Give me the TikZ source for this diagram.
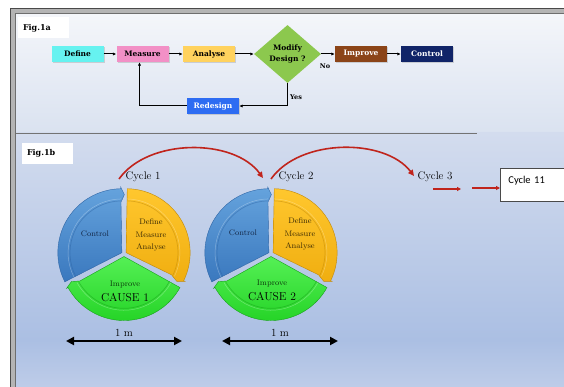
\documentclass[tikz,border=0pt]{standalone}
\usepackage{fontspec}
\newfontfamily\dvs{DejaVu Serif}
\newfontfamily\carl{Carlito}
\usetikzlibrary{arrows.meta,shapes.geometric,shadows}
\definecolor{cyanbox}{HTML}{66F2F0}
\definecolor{pinkbox}{HTML}{F290C6}
\definecolor{yelbox}{HTML}{FFD25E}
\definecolor{diagreen}{HTML}{8CC84E}
\definecolor{brownbox}{HTML}{8B4418}
\definecolor{navybox}{HTML}{102468}
\definecolor{bluebox}{HTML}{2D6CF2}
\definecolor{cycred}{HTML}{C0241C}
\definecolor{segblueA}{HTML}{65A3DD}
\definecolor{segblueB}{HTML}{3A78BE}
\definecolor{segblueD}{HTML}{2F66A6}
\definecolor{segyelA}{HTML}{FFC72E}
\definecolor{segyelB}{HTML}{F0AE10}
\definecolor{segyelD}{HTML}{C08808}
\definecolor{seggreenA}{HTML}{55F055}
\definecolor{seggreenB}{HTML}{1FD021}
\definecolor{seggreenD}{HTML}{17A019}
\definecolor{panelA}{HTML}{F4F6FA}
\definecolor{panelB}{HTML}{DAE2F0}
\definecolor{panelC}{HTML}{D3DCEE}
\definecolor{panelD}{HTML}{ABBFE3}
\definecolor{panelE}{HTML}{C3D0EA}
\definecolor{framegray}{HTML}{B4B4B4}
\definecolor{framedark}{HTML}{4A4A4A}
\definecolor{txtblue}{HTML}{142848}
\definecolor{txtbrown}{HTML}{3A2A04}
\definecolor{txtgreen}{HTML}{0C3A0C}
\newcommand\Rw{64}
\newcommand\wseg[5]{%
  \begin{scope}[shift={({(#1+#2)/2}:2.5)}]
  \path[top color=#3,bottom color=#4,draw=#5,line width=0.4pt]
    (0,0) -- (#1:\Rw) arc[start angle=#1,end angle=#2,radius=\Rw]
    -- (#2:{1.025*\Rw}) -- ({#2-3.5}:{0.91*\Rw}) -- (#2:{0.79*\Rw}) -- cycle;
  \draw[#5,line width=0.7pt,opacity=0.5] (#1:{0.81*\Rw}) arc[start angle=#1,end angle=#2,radius={0.81*\Rw}];
  \draw[white,line width=0.5pt,opacity=0.3] (#1:{0.84*\Rw}) arc[start angle=#1,end angle=#2,radius={0.84*\Rw}];
  \end{scope}
}
\newcommand\wheelsegs{%
  \wseg{207}{91}{segblueA}{segblueB}{segblueD}
  \wseg{89}{-26}{segyelA}{segyelB}{segyelD}
  \wseg{-29}{-151}{seggreenA}{seggreenB}{seggreenD}
}
\begin{document}
\begin{tikzpicture}[x=1pt,y=-1pt,
  flowbox/.style={rectangle,minimum width=52pt,minimum height=16pt,inner sep=0pt,
    font=\dvs\bfseries\fontsize{7.5}{9}\selectfont,
    drop shadow={shadow xshift=1pt,shadow yshift=-1pt,opacity=0.3}},
  flowarrow/.style={-{Latex[length=3.5pt,width=3.2pt]},line width=1pt,black},
  figlabel/.style={fill=white,inner xsep=5pt,inner ysep=0pt,text width=41pt,align=left,
    minimum height=21pt,font=\dvs\bfseries\fontsize{8}{10}\selectfont},
  smalllabel/.style={font=\dvs\bfseries\fontsize{6.5}{8}\selectfont,inner sep=0pt},
  redarc/.style={cycred,line width=1.6pt,-{Triangle[length=6pt,width=5.5pt]}},
  redshort/.style={cycred,line width=1.6pt,-{Triangle[length=4pt,width=4pt]}},
  dimarrow/.style={black,line width=2pt,{Triangle[length=8pt,width=8pt]}-{Triangle[length=8pt,width=8pt]}},
  cyclabel/.style={font=\fontsize{11}{12}\selectfont,text=black,inner sep=0pt},
  wtxt/.style={font=\fontsize{8}{12.5}\selectfont,align=center,inner sep=0pt},
  causetxt/.style={font=\fontsize{11.5}{13}\selectfont,inner sep=0pt,text=black},
  metertxt/.style={font=\fontsize{11}{13}\selectfont,inner sep=0pt}
]
\useasboundingbox (0,0) rectangle (564,387);
\clip (0,0) rectangle (564,387);
\fill[white] (0,0) rectangle (564,387);
% frame and panels
\fill[framegray] (10,8) rectangle (590,400);
\draw[framedark,line width=1.2pt] (10.6,8.6) rectangle (590,400);
\fill[top color=panelA,bottom color=panelB] (16,14) rectangle (590,133);
\fill[top color=panelC,bottom color=panelD] (16,133) rectangle (590,340);
\fill[top color=panelD,bottom color=panelE] (16,340) rectangle (590,400);
\draw[framedark!80,line width=0.8pt] (15.6,13.6) rectangle (590,400);
\draw[black!55,line width=0.8pt] (16,133) -- (477,133);

% Fig.1a
\node[figlabel] (fa) at (43.5,28) {Fig.1a};
\node[flowbox,fill=cyanbox] (def) at (77.5,54) {Define};
\node[flowbox,fill=pinkbox] (meas) at (142.5,54) {Measure};
\node[flowbox,fill=yelbox] (ana) at (209,54) {Analyse};
\node[diamond,fill=diagreen,minimum width=67pt,minimum height=58pt,inner sep=0pt,aspect=1.15,
  align=center,font=\dvs\bfseries\fontsize{7.5}{11}\selectfont] (dia) at (287.5,54) {Modify\\Design ?};
\node[flowbox,fill=brownbox,text=white] (imp) at (361,54) {Improve};
\node[flowbox,fill=navybox,text=white] (ctl) at (427,54) {Control};
\node[flowbox,fill=bluebox,text=white] (red) at (213,106) {Redesign};
\draw[flowarrow] (def.east) -- (meas.west);
\draw[flowarrow] (meas.east) -- (ana.west);
\draw[flowarrow] (ana.east) -- (dia.west);
\draw[flowarrow] (dia.east) -- (imp.west);
\draw[flowarrow] (imp.east) -- (ctl.west);
\draw[flowarrow] (dia.south) |- (red.east);
\draw[flowarrow] (red.west) -| ([xshift=-3pt]meas.south);
\node[smalllabel] (no) at (325,66.5) {No};
\node[smalllabel] (yes) at (296,97) {Yes};

% Fig.1b
\node[figlabel] (fb) at (47.5,153.5) {Fig.1b};

\begin{scope}[shift={(124,254)},y=1pt]
  \wheelsegs
  \node[wtxt,text=txtblue] (c1ctl) at (-29,20) {Control};
  \node[wtxt,text=txtbrown] (c1dma) at (27,19) {Define\\Measure\\Analyse};
  \node[wtxt,text=txtgreen] (c1imp) at (1,-31) {Improve};
  \node[causetxt] (c1cause) at (1,-43.5) {CAUSE 1};
\end{scope}
\begin{scope}[shift={(271,254)},y=1pt]
  \wheelsegs
  \node[wtxt,text=txtblue] (c2ctl) at (-28,21) {Control};
  \node[wtxt,text=txtbrown] (c2dma) at (29,20) {Define\\Measure\\Analyse};
  \node[wtxt,text=txtgreen] (c2imp) at (1,-30) {Improve};
  \node[causetxt] (c2cause) at (1,-43) {CAUSE 2};
\end{scope}

\node[cyclabel] (cy1) at (143,177) {Cycle 1};
\node[cyclabel] (cy2) at (296,177) {Cycle 2};
\node[cyclabel] (cy3) at (435,177) {Cycle 3};

\coordinate (r1s) at (119,179);
\coordinate (r1e) at (263,178);
\coordinate (r2s) at (271,179);
\coordinate (r2e) at (414,176);
\draw[redarc] (r1s) .. controls (148,138) and (234,138) .. (r1e);
\draw[redarc] (r2s) .. controls (300,138) and (385,138) .. (r2e);

\node[draw=framedark,line width=0.8pt,fill=white,anchor=north west,inner xsep=8pt,inner ysep=3pt,
  text height=12pt,text depth=15pt,text width=70pt,align=left,
  font=\carl\fontsize{10.5}{12}\selectfont] (c11) at (500,168) {Cycle 11};
\coordinate (s1a) at (433,189);
\coordinate (s1b) at (461,189);
\coordinate (s2a) at (472,188);
\draw[redshort] (s1a) -- (s1b);
\draw[redshort] (s2a) -- (c11.west |- s2a);

\coordinate (m1a) at (66,341);
\coordinate (m1b) at (182,341);
\coordinate (m2a) at (222,341);
\coordinate (m2b) at (338,341);
\draw[dimarrow] (m1a) -- (m1b);
\draw[dimarrow] (m2a) -- (m2b);
\node[metertxt] (m1) at (124,332.5) {1 m};
\node[metertxt] (m2) at (280,332.5) {1 m};
\end{tikzpicture}
\end{document}
